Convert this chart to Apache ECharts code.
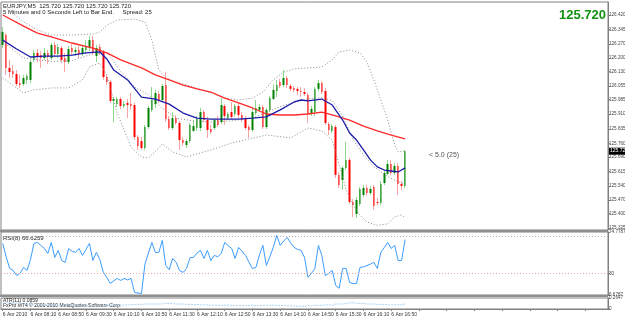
<!DOCTYPE html>
<html>
<head>
<meta charset="utf-8">
<script src="https://cdn.jsdelivr.net/npm/echarts@6/dist/echarts.min.js"></script>
<style>
  html, body { margin: 0; padding: 0; background: #fff; }
  #chart { width: 625px; height: 316px; }
</style>
</head>
<body>
<div id="chart"></div>
<script>
// EURJPY M5, 6 Apr 2010, first bar 07:30
var startTime = '07:30';
var dayLabel = '6 Apr';

var openP = [126.266,126.317,126.148,126.132,126.117,126.070,126.065,126.086,126.086,126.189,
  126.225,126.214,126.199,126.225,126.199,126.266,126.219,126.250,126.199,126.178,
  126.250,126.230,126.240,126.219,126.240,126.255,126.291,126.209,126.255,126.230,
  126.101,126.076,125.978,125.962,125.988,125.952,125.968,125.962,125.957,125.793,
  125.772,125.736,125.844,125.932,125.962,126.014,125.983,126.060,125.885,125.839,
  125.890,125.865,125.777,125.752,125.772,125.824,125.839,125.839,125.921,125.880,
  125.834,125.839,125.880,125.870,125.952,125.890,125.921,125.911,125.952,125.906,
  125.890,125.844,125.829,125.916,125.932,125.947,125.844,125.932,125.988,126.029,
  126.076,126.060,126.096,126.055,126.045,126.040,126.029,126.024,126.009,125.911,
  125.921,126.040,126.070,126.029,125.860,125.824,125.844,125.598,125.572,125.634,
  125.675,125.459,125.397,125.448,125.495,125.531,125.505,125.536,125.459,125.454,
  125.556,125.603,125.654,125.608,125.644,125.551,125.541];
var closeP = [126.333,126.148,126.127,126.117,126.065,126.060,126.096,126.106,126.178,126.225,
  126.209,126.199,126.225,126.204,126.266,126.219,126.255,126.189,126.178,126.245,
  126.230,126.240,126.219,126.250,126.261,126.291,126.230,126.250,126.230,126.101,
  126.076,125.978,125.988,125.988,125.952,125.962,125.957,125.952,125.793,125.747,
  125.736,125.844,125.942,125.983,126.019,125.983,126.055,125.885,125.839,125.890,
  125.865,125.777,125.762,125.772,125.855,125.849,125.885,125.921,125.880,125.829,
  125.819,125.880,125.855,125.957,125.901,125.911,125.896,125.952,125.906,125.880,
  125.839,125.829,125.921,125.942,125.947,125.844,125.932,125.993,126.035,126.060,
  126.055,126.096,126.060,126.040,126.035,126.029,126.024,126.014,125.911,125.937,
  126.040,126.070,126.024,125.865,125.829,125.849,125.598,125.546,125.634,125.675,
  125.459,125.443,125.469,125.526,125.531,125.505,125.526,125.438,125.454,125.551,
  125.608,125.654,125.608,125.644,125.551,125.541,125.720];
var lowP = [126.250,126.112,126.096,126.096,126.055,126.045,126.055,126.065,126.070,126.178,
  126.178,126.148,126.189,126.168,126.189,126.204,126.199,126.173,126.127,126.168,
  126.214,126.209,126.199,126.209,126.219,126.235,126.214,126.178,126.214,126.086,
  126.060,125.968,125.870,125.947,125.937,125.942,125.890,125.932,125.777,125.726,
  125.726,125.726,125.834,125.921,125.942,125.968,125.973,125.870,125.829,125.829,
  125.855,125.726,125.747,125.736,125.762,125.819,125.824,125.824,125.870,125.788,
  125.808,125.829,125.844,125.860,125.855,125.880,125.885,125.901,125.890,125.870,
  125.829,125.788,125.819,125.906,125.921,125.834,125.834,125.921,125.983,125.998,
  126.045,126.050,126.045,126.029,126.024,126.009,125.998,126.004,125.865,125.901,
  125.901,126.029,126.014,125.855,125.803,125.813,125.582,125.531,125.521,125.623,
  125.448,125.382,125.377,125.438,125.484,125.490,125.495,125.418,125.443,125.443,
  125.546,125.598,125.598,125.598,125.495,125.521,125.531];
var highP = [126.358,126.327,126.189,126.163,126.137,126.112,126.112,126.117,126.189,126.240,
  126.245,126.235,126.250,126.240,126.276,126.281,126.271,126.261,126.225,126.261,
  126.271,126.255,126.261,126.266,126.291,126.312,126.312,126.266,126.271,126.240,
  126.112,126.086,125.998,125.998,125.998,125.978,125.988,126.019,125.968,125.803,
  125.793,125.855,125.952,126.050,126.035,126.029,126.065,126.127,125.901,125.921,
  125.906,125.875,125.793,125.783,125.865,125.880,125.901,125.942,125.932,125.896,
  125.855,125.890,125.901,125.993,125.962,125.921,125.973,125.962,125.968,125.921,
  125.901,125.855,125.942,125.983,125.962,125.957,125.942,126.004,126.065,126.086,
  126.091,126.137,126.106,126.065,126.055,126.050,126.050,126.045,126.019,125.952,
  126.050,126.086,126.081,126.045,125.870,125.860,125.855,125.613,125.644,125.767,
  125.685,125.474,125.484,125.536,125.546,125.546,125.541,125.546,125.479,125.567,
  125.623,125.675,125.675,125.659,125.659,125.567,125.726];

// moving averages and bands: [bar, price]
var maBlue = [[0,126.291],[4,126.245],[8,126.204],[12,126.209],[16,126.209],[20,126.214],[24,126.225],
  [28,126.230],[30,126.194],[32,126.137],[36,126.086],[40,125.998],[44,125.988],[48,125.962],
  [52,125.916],[56,125.890],[60,125.885],[64,125.885],[68,125.885],[72,125.890],[76,125.896],
  [80,125.932],[84,125.973],[86,125.983],[88,125.978],[92,125.988],[95,125.957],[98,125.880],
  [100,125.813],[102,125.777],[104,125.726],[106,125.675],[108,125.639],[110,125.623],
  [112,125.618],[114,125.613],[116,125.634]];
var maRed = [[0,126.420],[6,126.363],[10,126.327],[14,126.307],[20,126.276],[26,126.250],[30,126.225],
  [34,126.189],[40,126.148],[44,126.112],[48,126.086],[52,126.060],[56,126.040],[60,126.024],
  [64,125.993],[68,125.968],[72,125.942],[76,125.911],[80,125.906],[84,125.906],[88,125.911],
  [92,125.921],[96,125.901],[100,125.880],[104,125.849],[108,125.824],[112,125.803],[116,125.783]];
var bandUp = [[0,126.470],[6,126.384],[10,126.343],[14,126.317],[20,126.317],[26,126.322],[28,126.333],
  [30,126.368],[33,126.394],[38,126.399],[41,126.384],[43,126.291],[45,126.137],[47,126.096],
  [50,126.076],[55,126.050],[60,126.019],[64,125.993],[68,125.983],[72,125.993],[75,126.024],
  [78,126.086],[81,126.127],[84,126.143],[88,126.148],[92,126.153],[95,126.189],[97,126.230],
  [100,126.240],[103,126.225],[105,126.178],[107,126.086],[109,125.983],[111,125.880],
  [113,125.752],[114,125.716],[116,125.721]];
var bandMid = [[0,126.283],[6,126.200],[10,126.190],[14,126.181],[20,126.186],[26,126.220],[30,126.230],
  [34,126.130],[38,126.050],[42,126.010],[46,125.940],[50,125.890],[55,125.875],[60,125.870],
  [66,125.876],[72,125.890],[76,125.920],[80,125.950],[84,125.970],[88,125.990],[92,125.995],
  [95,125.980],[98,125.900],[101,125.780],[104,125.700],[107,125.640],[110,125.600],
  [113,125.570],[116,125.550]];
var bandLow = [[0,126.096],[6,126.019],[9,126.035],[14,126.045],[19,126.045],[23,126.086],[25,126.153],
  [28,126.173],[30,126.112],[33,125.916],[37,125.741],[40,125.690],[42,125.685],[45,125.736],
  [46,125.757],[49,125.716],[53,125.690],[57,125.711],[60,125.726],[66,125.762],[76,125.803],
  [83,125.788],[88,125.839],[92,125.824],[95,125.777],[97,125.649],[99,125.521],[101,125.443],
  [103,125.392],[105,125.356],[108,125.339],[111,125.346],[113,125.382],[115,125.392],[116,125.377]];

var rsiVals = [62.4,48,35.4,33.2,27.8,30,36.5,33.2,45,62.4,
  63.5,60.3,57,51.6,63.5,47.3,54.9,44,41.9,56.9,
  54,52.7,57,49.5,56,62.4,44,52.7,45,31.1,
  25.7,19.2,22,24.6,22.4,24.6,23,24.6,9.5,8.8,
  8.4,40,52,63.5,52.7,52.7,65.7,38.6,34,46.2,
  42,33,31.1,35.4,47,47.3,52,54.9,46.2,54.9,
  44,49.5,48,51.6,63.5,60,57,46.2,58.1,54,
  49.5,42,35.4,36.5,50,60.3,38.6,48,58.1,71.1,
  60.3,65,68.9,63,58.1,56,54.9,47.3,25.7,30,
  35.4,60.3,49.5,27.8,30,33.2,17,14,35.4,35.4,
  20.3,19,19.2,36.5,37,38.6,40,41.9,35.4,52.7,
  58,63.5,57,60.3,44,44,66.6];
var atrVals = [0.14,0.15,0.15,0.14,0.13,0.13,0.12,0.12,0.12,0.12,
  0.11,0.11,0.10,0.10,0.10,0.10,0.09,0.09,0.09,0.09,
  0.09,0.08,0.08,0.08,0.08,0.08,0.08,0.08,0.07,0.08,
  0.08,0.09,0.10,0.10,0.10,0.09,0.10,0.10,0.11,0.11,
  0.11,0.12,0.12,0.12,0.12,0.12,0.12,0.14,0.13,0.13,
  0.12,0.12,0.12,0.11,0.11,0.11,0.11,0.10,0.10,0.10,
  0.09,0.09,0.09,0.09,0.09,0.09,0.09,0.08,0.08,0.08,
  0.08,0.08,0.09,0.08,0.08,0.09,0.09,0.09,0.09,0.09,
  0.08,0.09,0.08,0.08,0.07,0.07,0.07,0.06,0.08,0.08,
  0.09,0.09,0.09,0.10,0.10,0.09,0.12,0.12,0.12,0.13,
  0.15,0.15,0.14,0.13,0.13,0.12,0.12,0.12,0.11,0.11,
  0.11,0.10,0.10,0.10,0.11,0.10,0.12];

var priceTicks = [125.325,125.400,125.470,125.540,125.615,125.690,125.760,125.835,
  125.910,125.985,126.055,126.130,126.200,126.270,126.345,126.420];
var rsiTicks = [6.6787, 30, 74.7787];
var rsiLevels = [70, 30];
var atrTicks = [0, 0.2647];

var lastPrice = 125.720;
var spreadText = '< 5.0 (25)';

// 5 minute bar times
var times = [];
(function () {
    var p = startTime.split(':');
    var m = +p[0] * 60 + (+p[1]);
    for (var i = 0; i < openP.length; i++) {
        var t = m + i * 5;
        var hh = Math.floor(t / 60), mm = t % 60;
        times.push((hh < 10 ? '0' : '') + hh + ':' + (mm < 10 ? '0' : '') + mm);
    }
})();

var candles = [], bodies = [];
for (var i = 0; i < openP.length; i++) {
    candles.push([openP[i], closeP[i], lowP[i], highP[i]]);
    bodies.push([openP[i], closeP[i], Math.min(openP[i], closeP[i]), Math.max(openP[i], closeP[i])]);
}

var font = '"Liberation Sans", Arial, sans-serif';
var lastBar = openP.length - 1;
var slots = 174;

var myChart = echarts.init(document.getElementById('chart'));

function xAx(gi, showLabels) {
    return {
        type: 'category', gridIndex: gi, data: times, max: slots, boundaryGap: true,
        axisLine: { show: showLabels, lineStyle: { color: '#808080' } },
        axisTick: { show: showLabels, interval: 7, alignWithLabel: true, length: 2, lineStyle: { color: '#808080' } },
        axisLabel: {
            show: showLabels, interval: 7, fontSize: 5, color: '#333', fontFamily: font,
            align: 'left', margin: 3, showMinLabel: true, hideOverlap: false,
            formatter: function (v, idx) {
                if (idx > lastBar) return '';
                return idx === 0 ? dayLabel + ' 2010' : dayLabel + ' ' + v;
            }
        },
        splitLine: { show: false }
    };
}

function yAx(gi, min, max, ticks, fmt) {
    return {
        type: 'value', gridIndex: gi, position: 'right', min: min, max: max,
        axisLine: { show: true, lineStyle: { color: '#808080' } },
        axisTick: { show: true, customValues: ticks, length: 2, lineStyle: { color: '#808080' } },
        axisLabel: { customValues: ticks, fontSize: 4.6, color: '#444', fontFamily: font, margin: 1, formatter: fmt },
        splitLine: { show: false }
    };
}

function gridBox(top, height) {
    return {
        left: 1, right: 17, top: top, height: height, show: true,
        borderColor: '#808080', borderWidth: 1, outerBoundsMode: 'none', containLabel: false
    };
}

function dotted(name, data) {
    return {
        name: name, type: 'line', data: data, symbol: 'none', silent: true,
        lineStyle: { color: '#8c8c8c', width: 1, type: [1, 2] }
    };
}

var option = {
    animation: false,
    backgroundColor: '#fff',
    grid: [gridBox(2, 228), gridBox(232, 63), gridBox(298, 11)],
    xAxis: [xAx(0, false), xAx(1, false), xAx(2, true)],
    yAxis: [
        yAx(0, 125.3147, 126.4868, priceTicks, function (v) { return v.toFixed(3); }),
        yAx(1, 6.6787, 74.7787, rsiTicks, function (v) { return v === 30 ? '30' : v.toFixed(4); }),
        yAx(2, 0, 0.2647, atrTicks, function (v) { return v === 0 ? '0' : v.toFixed(4); })
    ],
    series: [
        dotted('bandUp', bandUp),
        dotted('bandMid', bandMid),
        dotted('bandLow', bandLow),
        {
            // wicks
            name: 'wicks', type: 'candlestick', data: candles, barWidth: 1,
            itemStyle: { color: '#8cd88c', color0: '#f7a3a3', borderColor: '#8cd88c', borderColor0: '#f7a3a3', borderWidth: 1 }
        },
        {
            // bodies
            name: 'EURJPY', type: 'candlestick', data: bodies, barWidth: 2,
            itemStyle: { color: '#008000', color0: '#ff0000', borderColor: '#008000', borderColor0: '#ff0000', borderWidth: 0 }
        },
        {
            name: 'maRed', type: 'line', data: maRed, symbol: 'none', silent: true,
            lineStyle: { color: '#ff2a2a', width: 1.3 }
        },
        {
            name: 'maBlue', type: 'line', data: maBlue, symbol: 'none', silent: true,
            lineStyle: { color: '#1c1ca8', width: 1.3 }
        },
        {
            name: 'RSI', type: 'line', xAxisIndex: 1, yAxisIndex: 1, data: rsiVals, symbol: 'none', silent: true,
            lineStyle: { color: '#3c9cff', width: 1 },
            markLine: {
                silent: true, symbol: 'none', label: { show: false },
                data: [
                    { yAxis: rsiLevels[0], lineStyle: { color: '#b0b0b0', type: [1, 2], width: 1 } },
                    { yAxis: rsiLevels[1], lineStyle: { color: '#f0a0a0', type: [1, 2], width: 1 } }
                ]
            }
        },
        {
            name: 'ATR', type: 'line', xAxisIndex: 2, yAxisIndex: 2, data: atrVals, symbol: 'none', silent: true,
            lineStyle: { color: '#a9d3f5', width: 1, type: [2, 1] }
        }
    ]
};

myChart.setOption(option);

// texts and last price marker
var py = myChart.convertToPixel({ yAxisIndex: 0 }, lastPrice);
var lp = lastPrice.toFixed(3);
myChart.setOption({
    graphic: [
        { type: 'text', left: 3, top: 3, style: { text: 'EURJPY,M5  ' + lp + ' ' + lp + ' ' + lp + ' ' + lp, fontSize: 6, fill: '#222', fontFamily: font } },
        { type: 'text', left: 3, top: 9, style: { text: '5 Minutes and 0 Seconds Left to Bar End.     Spread: 25', fontSize: 6, fill: '#222', fontFamily: font } },
        { type: 'text', right: 19, top: 9, style: { text: lp, fontSize: 13, fontWeight: 'bold', fill: '#129212', fontFamily: font } },
        { type: 'text', left: 429, top: 152, style: { text: spreadText, fontSize: 7, fill: '#555', fontFamily: font } },
        { type: 'rect', shape: { x: 609, y: py - 3.5, width: 16, height: 7 }, style: { fill: '#000' }, z: 10 },
        { type: 'text', x: 610, y: py - 3, style: { text: lp, fontSize: 5, fill: '#fff', fontFamily: font }, z: 11 },
        { type: 'rect', shape: { x: 0, y: 230, width: 608, height: 2 }, style: { fill: '#909090' }, z: 5 },
        { type: 'rect', shape: { x: 0, y: 295, width: 608, height: 2 }, style: { fill: '#909090' }, z: 5 },
        { type: 'text', left: 3, top: 235, style: { text: 'RSI(8) 66.6259', fontSize: 6, fill: '#222', fontFamily: font } },
        { type: 'text', left: 3, top: 298, style: { text: 'ATR(11) 0.0859', fontSize: 5, fill: '#222', fontFamily: font } },
        { type: 'text', left: 3, top: 303, style: { text: 'FxPro MT4 \u00a9 2001-2010 MetaQuotes Software Corp.', fontSize: 5, fill: '#222', fontFamily: font } }
    ]
});

window.addEventListener('resize', function () {
    myChart.resize();
});
</script>
</body>
</html>
